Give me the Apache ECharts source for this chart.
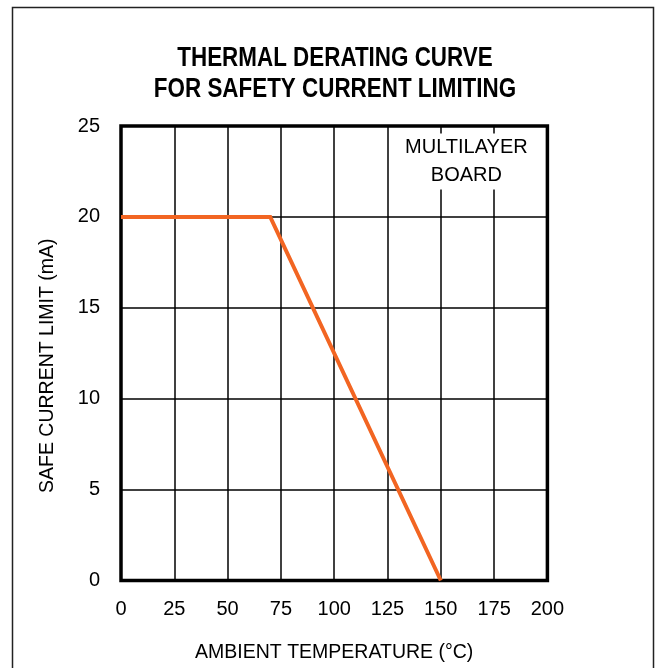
<!DOCTYPE html>
<html>
<head>
<meta charset="utf-8">
<script src="https://cdn.jsdelivr.net/npm/echarts@6/dist/echarts.min.js"></script>
<style>
html,body{margin:0;padding:0;background:#fff;}
#chart{width:656px;height:668px;}
</style>
</head>
<body>
<div id="chart"></div>
<script>
// Data
var temperatures = [0, 70, 150];          // ambient temperature (°C)
var currentLimit = [20, 20, 0];           // safe current limit (mA)
var xTicks = [0, 25, 50, 75, 100, 125, 150, 175, 200];
var yTicks = [0, 5, 10, 15, 20, 25];
var titleLines = ['THERMAL DERATING CURVE', 'FOR SAFETY CURRENT LIMITING'];
var noteText = ['MULTILAYER', 'BOARD'];
var notePos = [162, 23.05];

var FONT = '"Liberation Sans Narrow", "Arial Narrow", "Liberation Sans", Arial, sans-serif';

var chart = echarts.init(document.getElementById('chart'), null, {renderer: 'canvas'});
var option = {
  backgroundColor: '#fff',
  animation: false,
  graphic: [{
    type: 'rect',
    shape: {x: 12.5, y: 7.5, width: 641, height: 720},
    style: {fill: 'none', stroke: '#222', lineWidth: 1.5},
    silent: true,
    z: 100
  }, {
    type: 'text',
    x: 335,
    y: 43,
    scaleX: 0.83,
    silent: true,
    style: {
      text: titleLines.join('\n'),
      fontFamily: FONT,
      fontWeight: 'bold',
      fontSize: 27,
      lineHeight: 31,
      fill: '#000',
      align: 'center',
      verticalAlign: 'top'
    }
  }],
  grid: {
    left: 121,
    right: 108.6,
    top: 126,
    bottom: 84,
    show: true,
    borderWidth: 3.5,
    borderColor: '#000',
    backgroundColor: 'transparent',
    containLabel: false
  },
  xAxis: {
    type: 'value',
    min: xTicks[0],
    max: xTicks[xTicks.length - 1],
    interval: 25,
    name: 'AMBIENT TEMPERATURE (°C)',
    nameLocation: 'middle',
    nameGap: 62.5,
    nameTextStyle: {fontFamily: FONT, fontSize: 19.5, color: '#000'},
    axisLine: {show: false},
    axisTick: {show: false},
    axisLabel: {
      margin: 18.5,
      fontFamily: FONT,
      fontSize: 20,
      color: '#000',
      showMinLabel: true,
      showMaxLabel: true
    },
    splitLine: {show: true, lineStyle: {color: '#000', width: 1.5}}
  },
  yAxis: {
    type: 'value',
    min: yTicks[0],
    max: yTicks[yTicks.length - 1],
    interval: 5,
    name: 'SAFE CURRENT LIMIT (mA)',
    nameLocation: 'middle',
    nameGap: 63,
    nameTextStyle: {fontFamily: FONT, fontSize: 19.5, color: '#000', padding: [0, 25, 0, 0]},
    axisLine: {show: false},
    axisTick: {show: false},
    axisLabel: {
      margin: 21,
      fontFamily: FONT,
      fontSize: 20,
      color: '#000'
    },
    splitLine: {show: true, lineStyle: {color: '#000', width: 1.5}}
  },
  series: [{
    type: 'line',
    data: temperatures.map(function (t, i) { return [t, currentLimit[i]]; }),
    symbol: 'none',
    lineStyle: {color: '#F26522', width: 4, cap: 'butt', join: 'miter'},
    z: 3,
    markPoint: {
      symbol: 'rect',
      symbolSize: 0,
      silent: true,
      data: [{
        coord: notePos,
        label: {
          show: true,
          position: 'inside',
          formatter: noteText.join('\n'),
          fontFamily: FONT,
          fontSize: 20,
          lineHeight: 28,
          color: '#000',
          backgroundColor: '#fff',
          padding: [0, 6]
        }
      }]
    }
  }]
};
chart.setOption(option);
</script>
</body>
</html>
